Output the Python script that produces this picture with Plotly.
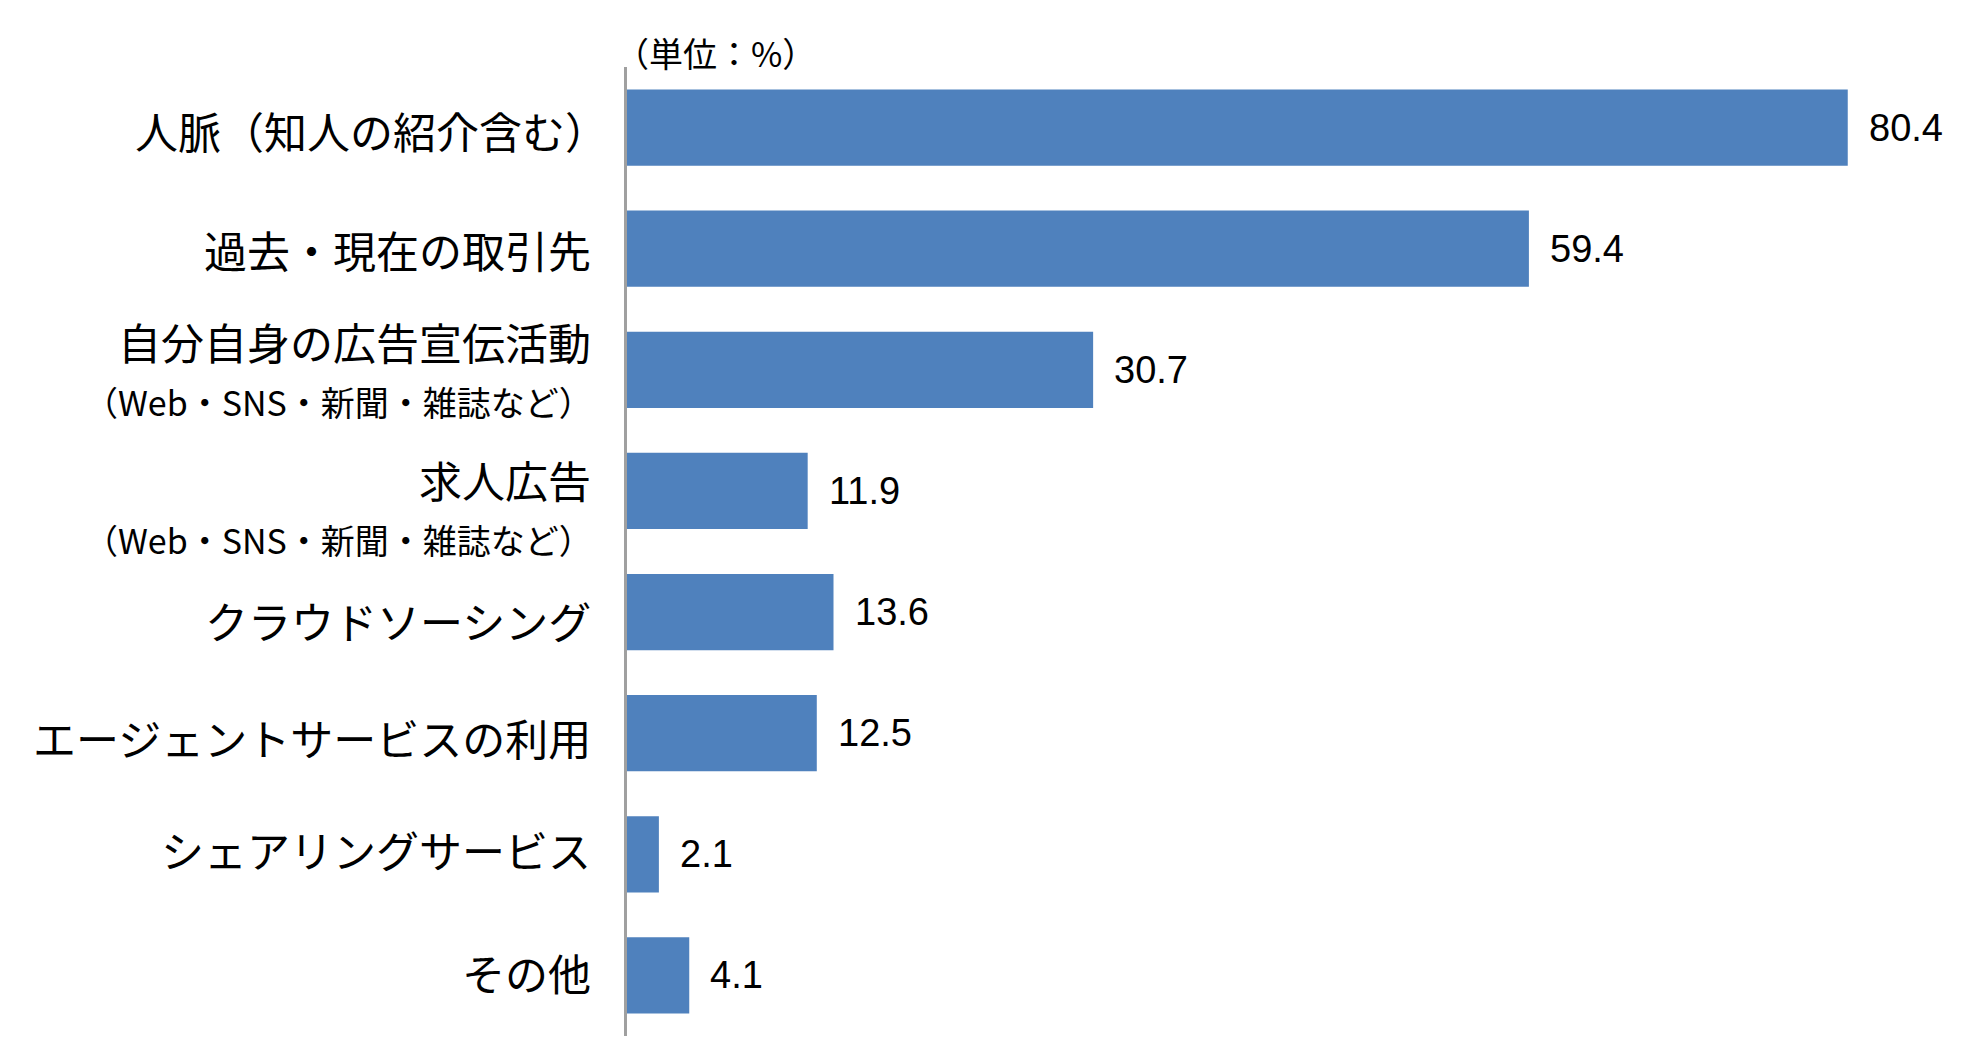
import plotly.graph_objects as go

categories = [
    "人脈（知人の紹介含む）",
    "過去・現在の取引先",
    "自分自身の広告宣伝活動",
    "求人広告",
    "クラウドソーシング",
    "エージェントサービスの利用",
    "シェアリングサービス",
    "その他",
]
sub_labels = ["", "", "（Web・SNS・新聞・雑誌など）", "（Web・SNS・新聞・雑誌など）", "", "", "", ""]
values = [80.4, 59.4, 30.7, 11.9, 13.6, 12.5, 2.1, 4.1]
unit_label = "（単位：%）"

W, H = 1970, 1056
ML, MR, MT, MB = 619, 27, 59, 28
JP = "Noto Sans CJK JP, sans-serif"
NUM = "Liberation Sans, Arial, sans-serif"

fig = go.Figure()
fig.add_trace(go.Bar(
    x=values,
    y=list(range(len(categories))),
    orientation="h",
    marker=dict(color="#4F81BD", line=dict(width=0)),
    hoverinfo="x",
))

annotations = []
# per-label shifts (px) for main and sub lines
main_xshift = [-17, -34, -34, -34, -34, -34, -34, -34]
main_shift = [-2, 0, 29, 12, -8, -4, 5, 3]
sub_shift = [0, 0, -32, -49, 0, 0, 0, 0]
for i, (cat, sub, v) in enumerate(zip(categories, sub_labels, values)):
    annotations.append(dict(
        x=0, y=i, xref="x", yref="y", text=cat, showarrow=False,
        xanchor="right", yanchor="middle", xshift=main_xshift[i], yshift=main_shift[i],
        font=dict(family=JP, size=43, color="#000000"),
    ))
    if sub:
        annotations.append(dict(
            x=0, y=i, xref="x", yref="y", text=sub, showarrow=False,
            xanchor="right", yanchor="middle", xshift=-32, yshift=sub_shift[i],
            font=dict(family=JP, size=34, color="#000000"),
        ))
    annotations.append(dict(
        x=v, y=i, xref="x", yref="y", text=f"{v:.1f}", showarrow=False,
        xanchor="left", yanchor="middle", xshift=19,
        font=dict(family=NUM, size=38, color="#000000"),
    ))

annotations.append(dict(
    x=0, y=1, xref="x", yref="paper", text=unit_label, showarrow=False,
    xanchor="left", yanchor="bottom", xshift=-14, yshift=-12,
    font=dict(family=JP, size=34, color="#000000"),
))

fig.update_layout(
    width=W, height=H,
    margin=dict(l=ML, r=MR, t=MT, b=MB),
    paper_bgcolor="white", plot_bgcolor="white",
    showlegend=False,
    bargap=0.37,
    annotations=annotations,
    xaxis=dict(range=[0, 87.2], showgrid=False, zeroline=False, showticklabels=False,
               ticks="", showline=False, fixedrange=True),
    yaxis=dict(range=[len(categories) - 0.5, -0.5], showgrid=False, zeroline=False,
               showticklabels=False, ticks="", showline=True, linecolor="#A0A0A0",
               linewidth=3, fixedrange=True),
)

fig.write_html("out.html")
